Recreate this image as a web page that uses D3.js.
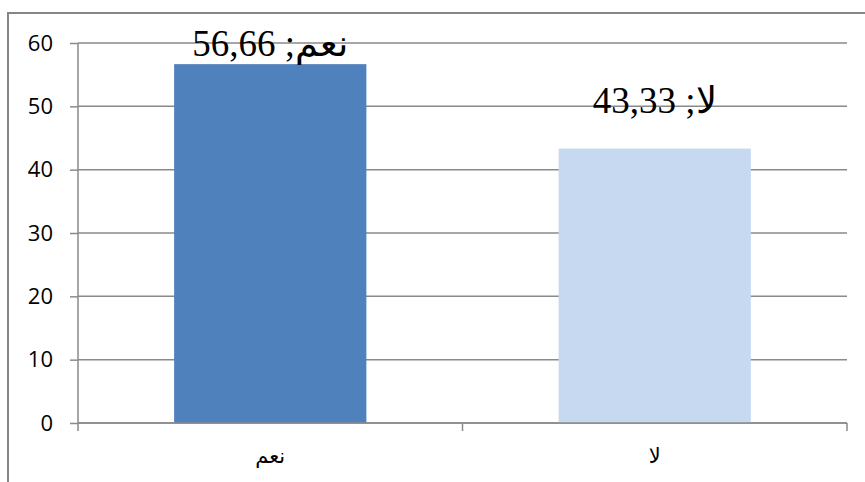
<!DOCTYPE html>
<html lang="ar">
<head>
<meta charset="UTF-8">
<title>Bar Chart</title>
<script src="https://cdn.jsdelivr.net/npm/d3@7"></script>
<style>
    body { margin: 0; background: #fff; }
    svg { display: block; }
</style>
</head>
<body>
<script>
    // chart data
    const categories = ['نعم', 'لا']
    const values = [56.66, 43.33]
    // written in visual order, LRM keeps the semicolon beside the word
    const labels = ['56,66 ;\u200Eنعم', '43,33 ;\u200Eلا']
    const barColors = ['#4f81bd', '#c6d9f1']
    const yTicks = [0, 10, 20, 30, 40, 50, 60]

    let w = 865
    let h = 482
    let margin = { top: 43, right: 18, bottom: 59, left: 78 }

    let svg = d3.select('body').append('svg')
        .attr('width', w)
        .attr('height', h)

    // chart frame (cut off at right and bottom)
    svg.append('rect')
        .attr('x', 8)
        .attr('y', 13)
        .attr('width', w + 20)
        .attr('height', h + 20)
        .attr('fill', 'none')
        .attr('stroke', '#868686')
        .attr('stroke-width', 2)

    let xScale = d3.scaleBand()
        .domain(categories)
        .range([margin.left, w - margin.right])
        .paddingInner(0.5)
        .paddingOuter(0.25)

    let yScale = d3.scaleLinear()
        .domain([0, 60])
        .range([h - margin.bottom, margin.top])

    // gridlines
    svg.append('g')
        .selectAll('line')
        .data(yTicks)
        .enter()
        .append('line')
        .attr('x1', margin.left)
        .attr('x2', w - margin.right)
        .attr('y1', d => yScale(d))
        .attr('y2', d => yScale(d))
        .attr('stroke', '#8a8a8a')
        .attr('stroke-width', 1.5)

    let yAxis = d3.axisLeft(yScale)
        .tickValues(yTicks)
        .tickSize(8)
        .tickPadding(17)

    let gy = svg.append('g')
        .attr('transform', 'translate(' + margin.left + ',0)')
        .call(yAxis)
    gy.selectAll('line, path').attr('stroke', '#8a8a8a').attr('stroke-width', 1.5)
    gy.select('.domain').attr('d', 'M0,' + yScale(60) + 'V' + yScale(0))
    gy.selectAll('text')
        .attr('fill', '#000')
        .style('font-family', '"Open Sans", sans-serif')
        .style('font-size', '22px')

    // bars
    svg.selectAll('rect.bar')
        .data(values)
        .enter()
        .append('rect')
        .attr('class', 'bar')
        .attr('x', (d, i) => xScale(categories[i]))
        .attr('y', d => yScale(d))
        .attr('width', xScale.bandwidth())
        .attr('height', d => yScale(0) - yScale(d))
        .attr('fill', (d, i) => barColors[i])

    // x axis with ticks between categories
    let gx = svg.append('g')
        .attr('transform', 'translate(0,' + yScale(0) + ')')
    gx.append('line')
        .attr('x1', margin.left)
        .attr('x2', w - margin.right)
        .attr('stroke', '#8a8a8a')
        .attr('stroke-width', 1.5)
    let step = xScale.step()
    let bounds = [margin.left, margin.left + step, margin.left + 2 * step]
    gx.selectAll('line.tick')
        .data(bounds)
        .enter()
        .append('line')
        .attr('class', 'tick')
        .attr('x1', d => d)
        .attr('x2', d => d)
        .attr('y1', 0)
        .attr('y2', 8)
        .attr('stroke', '#8a8a8a')
        .attr('stroke-width', 1.5)
    gx.selectAll('text')
        .data(categories)
        .enter()
        .append('text')
        .attr('x', d => xScale(d) + xScale.bandwidth() / 2)
        .attr('y', 40)
        .attr('text-anchor', 'middle')
        .style('font-family', '"Liberation Serif", "DejaVu Sans", serif')
        .style('font-size', '21px')
        .text(d => d)

    // data labels
    svg.selectAll('text.label')
        .data(values)
        .enter()
        .append('text')
        .attr('class', 'label')
        .attr('x', (d, i) => xScale(categories[i]) + xScale.bandwidth() / 2)
        .attr('y', d => Math.max(yScale(d) - 36, margin.top + 13))
        .attr('text-anchor', 'middle')
        .style('font-family', '"Liberation Serif", serif')
        .style('font-size', '37px')
        .text((d, i) => labels[i])
</script>
</body>
</html>
